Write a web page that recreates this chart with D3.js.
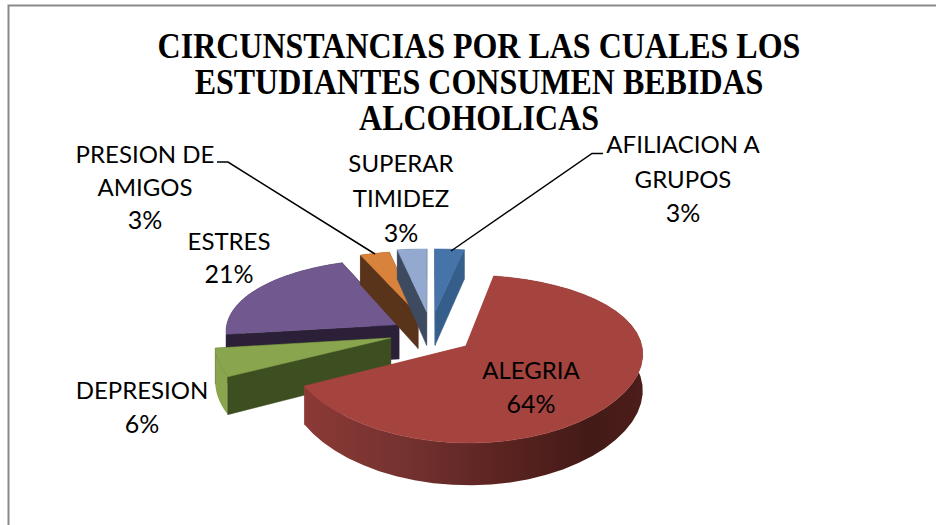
<!DOCTYPE html>
<html><head><meta charset="utf-8">
<script src="https://cdn.jsdelivr.net/npm/d3@7"></script>
<style>html,body{margin:0;padding:0;background:#fff}svg{display:block}</style></head>
<body><svg id="c" width="936" height="525"></svg>
<script>
const categories = ["AFILIACION A GRUPOS","ALEGRIA","DEPRESION","ESTRES","PRESION DE AMIGOS","SUPERAR TIMIDEZ"];
const values = [3,64.5,5.5,21,3,3];
const percentLabels = ["3%","64%","6%","21%","3%","3%"];
const titleLines = ["CIRCUNSTANCIAS POR LAS CUALES LOS","ESTUDIANTES CONSUMEN BEBIDAS","ALCOHOLICAS"];

// layout and style
const topColors = ["#4674a8","#a5433f","#89a54e","#71588f","#d9823c","#93a9cf"];
const wallColors = ["#355e8a","#a5433f","#3d4e21","#2b2038","#59331a","#3d4a60"];
const rimColors = ["#355e8a","url(#redRim)","#89a54e","#2b2038","#59331a","#3d4a60"];
const explodeU = [0.03,0.204,-0.225,-0.18,-0.07,-0.02];
const explodeV = [-0.30,0.145,0.045,-0.127,-0.26,-0.30];
const zOrder = [3,4,5,0,2,1];
const labelLines = [["AFILIACION A","GRUPOS"],["ALEGRIA"],["DEPRESION"],["ESTRES"],["PRESION DE","AMIGOS"],["SUPERAR","TIMIDEZ"]];
const labelX = [683,531,142,229,145,401];
const labelY = [153,379,399,250,163,172];
const labelStep = [34.5,34,34,33,33,35];
const leaders = [[[603,153.5],[592,153.5],[451,251]],[[217,162],[228,162],[375,254]]];
const titleBaselines = [58,94,130];

const cx=430, cy=334.4, rx=174, ry=78.6, px=0.08, py=0.15, depth=35;
const project = (U,V,h=0) => [cx+rx*U/(1-px*V), cy+ry*V/(1-py*V)+h*depth/(1-py*V)];

const svg = d3.select("#c");
const defs = svg.append("defs");
const grad = defs.append("linearGradient").attr("id","redRim").attr("gradientUnits","userSpaceOnUse")
  .attr("x1",302).attr("x2",642).attr("y1",0).attr("y2",0);
[[0,"#8c3a36"],[0.3,"#743230"],[0.6,"#5a2320"],[0.85,"#431a17"],[1,"#4c1d1a"]].forEach(s=>grad.append("stop").attr("offset",s[0]).attr("stop-color",s[1]));

// frame
svg.append("path").attr("d",d3.line()([[936,5.5],[8.5,5.5],[8.5,525]])).attr("fill","none").attr("stroke","#8a8a8a").attr("stroke-width",2);

const arcs = d3.pie().sort(null).value(d=>d)(values);
const line = d3.line();
const g = svg.append("g");
const pt = (i,a,r,h)=>project(explodeU[i]+r*Math.sin(a), explodeV[i]-r*Math.cos(a), h);
const sweep = (i,h,rev)=>{
  const a=arcs[i], s=d3.range(0,41).map(t=>a.startAngle+(a.endAngle-a.startAngle)*t/40);
  if(rev) s.reverse();
  return s.map(t=>pt(i,t,1,h));
};
zOrder.forEach(i=>{
  const a=arcs[i];
  const sl=g.append("g");
  const wall=(ang,fill)=>sl.append("path").attr("d",line([pt(i,ang,0,0),pt(i,ang,1,0),pt(i,ang,1,1),pt(i,ang,0,1)])+"Z").attr("fill",fill).attr("stroke",fill).attr("stroke-width",.5);
  wall(a.endAngle,wallColors[i]);
  sl.append("path").attr("d",line(sweep(i,0,false).concat(sweep(i,1,true)))+"Z").attr("fill",rimColors[i]);
  wall(a.startAngle,wallColors[i]);
  sl.append("path").attr("d",line([pt(i,0,0,0)].concat(sweep(i,0,false)))+"Z").attr("fill",topColors[i]).attr("stroke",topColors[i]).attr("stroke-width",.5);
});
leaders.forEach(l=>svg.append("path").attr("d",line(l)).attr("fill","none").attr("stroke","#000").attr("stroke-width",1.5));

svg.append("g").selectAll("text").data(titleLines).join("text")
  .attr("transform",(d,i)=>`translate(479,${titleBaselines[i]}) scale(1,1.13)`).attr("text-anchor","middle")
  .attr("font-family","Liberation Serif").attr("font-weight","bold").attr("font-size",32).attr("fill","#000").text(d=>d);

categories.forEach((c,i)=>{
  const t=svg.append("text").attr("font-family","Lato").attr("font-size",24).attr("text-anchor","middle").attr("fill","#000");
  labelLines[i].forEach((s,j)=>t.append("tspan").attr("x",labelX[i]).attr("y",labelY[i]+j*labelStep[i]).text(s));
  t.append("tspan").attr("x",labelX[i]).attr("y",labelY[i]+labelLines[i].length*labelStep[i]).attr("font-size",25).text(percentLabels[i]);
});
</script></body></html>
